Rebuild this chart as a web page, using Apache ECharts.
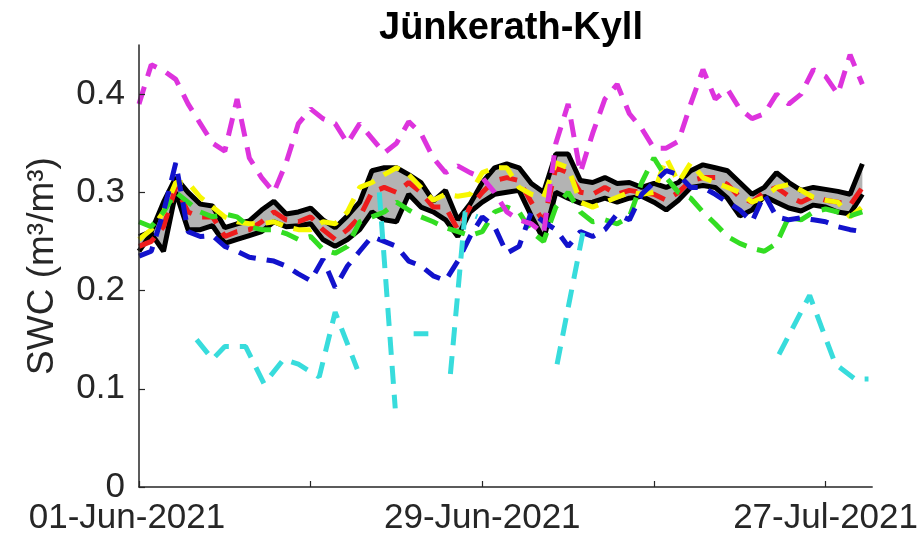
<!DOCTYPE html>
<html>
<head>
<meta charset="utf-8">
<script src="https://cdn.jsdelivr.net/npm/echarts@6/dist/echarts.min.js"></script>
<style>
  html, body { margin: 0; padding: 0; background: #fff; }
  #chart { width: 921px; height: 539px; }
</style>
</head>
<body>
<div id="chart"></div>
<script>
// days since 01-Jun-2021
const days = [0,1,2,3,4,5,6,7,8,9,10,11,12,13,14,15,16,17,18,19,
  20,21,22,23,24,25,26,27,28,29,30,31,32,33,34,35,36,37,38,39,
  40,41,42,43,44,45,46,47,48,49,50,51,52,53,54,55,56,57,58,59];

const tickDays = [0, 14, 28, 42, 56];
const labelDays = [0, 28, 56];
const labelTexts = ['01-Jun-2021', '29-Jun-2021', '27-Jul-2021'];
const yTicks = [0, 0.1, 0.2, 0.3, 0.4];

// envelope (black lines, grey band)
const upper = [0.255,0.26,0.29,0.315,0.30,0.288,0.286,0.264,0.268,0.271,
  0.282,0.291,0.278,0.28,0.284,0.272,0.264,0.276,0.29,0.322,
  0.325,0.325,0.318,0.31,0.291,0.302,0.272,0.288,0.31,0.325,
  0.329,0.325,0.309,0.30,0.339,0.339,0.312,0.31,0.315,0.309,
  0.31,0.305,0.309,0.305,0.31,0.322,0.328,0.325,0.322,0.31,
  0.298,0.305,0.32,0.31,0.302,0.305,0.303,0.301,0.298,0.329];
const lower = [0.24,0.258,0.24,0.30,0.262,0.262,0.266,0.248,0.252,0.256,
  0.26,0.27,0.265,0.266,0.268,0.252,0.245,0.252,0.262,0.28,
  0.272,0.27,0.298,0.285,0.28,0.272,0.255,0.28,0.29,0.298,
  0.30,0.302,0.276,0.252,0.30,0.294,0.289,0.29,0.294,0.29,
  0.294,0.296,0.29,0.282,0.292,0.305,0.307,0.305,0.294,0.276,
  0.282,0.296,0.29,0.284,0.281,0.287,0.285,0.28,0.278,0.298];

const red = [0.245,0.25,0.265,0.305,0.28,0.275,0.275,0.255,0.26,0.262,
  0.27,0.28,0.272,0.27,0.275,0.262,0.252,0.262,0.275,0.30,
  0.305,0.30,0.31,0.30,0.285,0.285,0.262,0.285,0.30,0.312,
  0.315,0.312,0.29,0.27,0.325,0.32,0.30,0.298,0.305,0.298,
  0.302,0.30,0.298,0.292,0.30,0.312,0.315,0.315,0.308,0.295,
  0.29,0.30,0.305,0.296,0.29,0.296,0.292,0.29,0.287,0.305];
const yellow = [0.252,0.262,0.28,0.31,0.31,0.295,0.285,0.275,0.27,0.268,
  0.268,0.27,0.265,0.262,0.262,0.27,0.268,0.28,0.305,0.31,
  0.318,0.325,0.318,0.305,0.292,0.298,0.296,0.298,0.32,0.325,
  0.325,0.305,0.298,0.295,0.33,0.325,0.29,0.285,0.29,0.295,
  0.30,0.298,0.30,0.335,0.31,0.33,0.315,0.31,0.305,0.30,
  0.29,0.295,0.305,0.308,0.302,0.295,0.292,0.29,0.275,0.285];
const green = [0.27,0.265,0.28,0.30,0.29,0.28,0.275,0.278,0.275,0.265,
  0.262,0.262,0.258,0.252,0.255,0.242,0.238,0.245,0.27,0.275,
  0.28,0.29,0.282,0.275,0.27,0.264,0.26,0.256,0.26,0.28,
  0.285,0.28,0.26,0.25,0.285,0.30,0.28,0.27,0.272,0.268,
  0.275,0.31,0.335,0.315,0.30,0.294,0.28,0.268,0.255,0.248,
  0.243,0.24,0.248,0.275,0.272,0.28,0.283,0.28,0.276,0.28];
const blue = [0.235,0.24,0.28,0.33,0.26,0.255,0.256,0.245,0.24,0.234,
  0.232,0.23,0.225,0.217,0.21,0.232,0.203,0.225,0.24,0.255,
  0.25,0.245,0.23,0.225,0.215,0.21,0.23,0.255,0.275,0.265,
  0.238,0.245,0.28,0.27,0.262,0.245,0.26,0.255,0.262,0.278,
  0.272,0.298,0.31,0.322,0.318,0.305,0.305,0.298,0.29,0.282,
  0.27,0.298,0.275,0.272,0.274,0.272,0.27,0.265,0.262,0.26];
const magenta = [0.39,0.43,0.424,0.415,0.39,0.37,0.35,0.342,0.395,0.335,
  0.315,0.30,0.33,0.37,0.385,0.375,0.37,0.35,0.37,0.355,
  0.34,0.35,0.372,0.36,0.335,0.32,0.327,0.32,0.315,0.30,
  0.28,0.272,0.268,0.258,0.35,0.39,0.32,0.36,0.395,0.41,
  0.38,0.365,0.345,0.345,0.352,0.39,0.425,0.395,0.405,0.385,
  0.375,0.38,0.40,0.39,0.40,0.425,0.418,0.40,0.44,0.41];

// cyan sensor has gaps (null = no data)
const cyanDays = [4.7,6,7,8.7,10.2,11.8,13,14.7,16,17.8,18.7,19.6,20.9,21.6,22.4,23.6,24.5,
  25.4,26.6,27.6,30,34.1,36.3,45,52.2,54.7,56.8,58.4,59.5];
const cyanVals = [0.15,0.13,0.143,0.143,0.105,0.13,0.125,0.112,0.178,0.12,null,0.30,0.08,null,0.156,0.156,null,
  0.115,0.28,0.275,null,0.125,0.265,null,0.135,0.195,0.125,0.11,0.11];

const pairs = vals => days.map((d, i) => [d, vals[i]]);
const cyan = cyanDays.map((d, i) => [d, cyanVals[i] == null ? '-' : cyanVals[i]]);

const dash = [18, 11];
const lw = 5;

function dashed(name, data, color) {
  return {
    name: name, type: 'line', data: data, symbol: 'none', silent: true,
    lineStyle: { color: color, width: lw, type: dash }
  };
}

// grey band between the two envelope lines, as one polygon
function renderBand(params, api) {
  if (params.dataIndex !== 0) return null;
  const pts = [];
  for (let i = 0; i < days.length; i++) pts.push(api.coord([days[i], upper[i]]));
  for (let i = days.length - 1; i >= 0; i--) pts.push(api.coord([days[i], lower[i]]));
  return {
    type: 'polygon',
    shape: { points: pts },
    style: { fill: '#b3b3b3', stroke: null }
  };
}

const chart = echarts.init(document.getElementById('chart'), null, { renderer: 'canvas' });

const axisCol = '#262626';
const font = 'Liberation Sans';

const option = {
  animation: false,
  backgroundColor: '#fff',
  title: {
    text: 'Jünkerath-Kyll',
    left: 506, textAlign: 'center', top: 5,
    textStyle: { fontFamily: font, fontSize: 38, fontWeight: 'bold', color: '#000' }
  },
  grid: { left: 139, right: 39, top: 45, bottom: 52 },
  xAxis: {
    type: 'value', min: 0, max: 59.8, z: 10,
    splitLine: { show: false },
    axisLine: { lineStyle: { color: axisCol, width: 1.5 } },
    axisTick: { inside: true, length: 6, customValues: tickDays, lineStyle: { color: axisCol, width: 1.2 } },
    axisLabel: {
      customValues: labelDays,
      margin: 14,
      color: axisCol, fontFamily: font, fontSize: 35,
      formatter: v => {
        const i = labelDays.indexOf(v);
        if (i < 0) return '';
        return i === 0 ? '{f|' + labelTexts[i] + '}' : labelTexts[i];
      },
      rich: { f: { fontFamily: font, fontSize: 35, color: axisCol, padding: [0, 24, 0, 0] } }
    }
  },
  yAxis: {
    type: 'value', min: 0, max: 0.45, z: 10,
    name: 'SWC (m³/m³)', nameLocation: 'middle', nameRotate: 90, nameGap: 78,
    nameTextStyle: { fontFamily: font, fontSize: 37, color: axisCol },
    splitLine: { show: false },
    axisLine: { show: true, lineStyle: { color: axisCol, width: 1.5 } },
    axisTick: { show: true, inside: true, length: 6, customValues: yTicks, lineStyle: { color: axisCol, width: 1.2 } },
    axisLabel: {
      customValues: yTicks, margin: 14,
      color: axisCol, fontFamily: font, fontSize: 35,
      formatter: v => (v === 0 ? '0' : v.toFixed(1))
    }
  },
  series: [
    { name: 'band', type: 'custom', renderItem: renderBand, data: [[0, 0]], silent: true, z: 1 },
    { name: 'upper', type: 'line', data: pairs(upper), symbol: 'none', silent: true,
      lineStyle: { color: '#000', width: lw } },
    { name: 'lower', type: 'line', data: pairs(lower), symbol: 'none', silent: true,
      lineStyle: { color: '#000', width: lw } },
    dashed('red', pairs(red), '#ee1c1c'),
    dashed('yellow', pairs(yellow), '#f7f700'),
    dashed('green', pairs(green), '#33dd22'),
    dashed('blue', pairs(blue), '#1212cc'),
    dashed('cyan', cyan, '#38dcdc'),
    dashed('magenta', pairs(magenta), '#dd33dd')
  ]
};

chart.setOption(option);
</script>
</body>
</html>
